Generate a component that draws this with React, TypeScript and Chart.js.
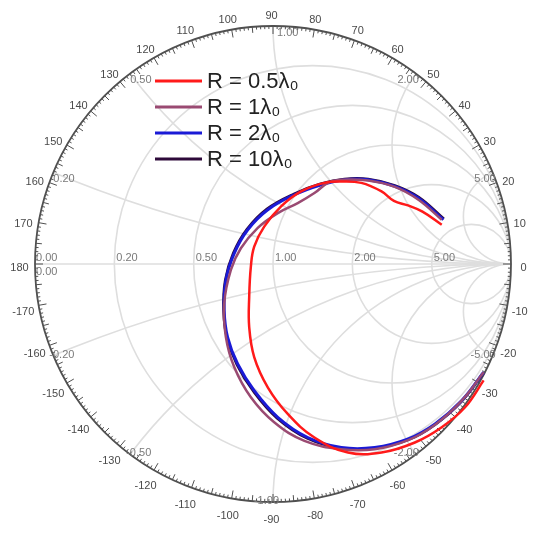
import React, { useEffect, useRef } from "react";
import { Chart, registerables } from "chart.js";

Chart.register(...registerables);

// Smith chart grid values
const RESISTANCE_VALUES = [0.2, 0.5, 1, 2, 5];
const REACTANCE_VALUES = [0.2, 0.5, 1, 2, 5];
const RESISTANCE_LABELS = ["0.20", "0.50", "1.00", "2.00", "5.00"];
const REACTANCE_POS_LABELS = ["0.20", "0.50", "1.00", "2.00", "5.00"];
const REACTANCE_NEG_LABELS = ["-0.20", "-0.50", "-1.00", "-2.00", "-5.00"];
const ANGLE_LABELS = [
  0, 10, 20, 30, 40, 50, 60, 70, 80, 90, 100, 110, 120, 130, 140, 150, 160, 170, 180,
  -10, -20, -30, -40, -50, -60, -70, -80, -90, -100, -110, -120, -130, -140, -150, -160, -170,
];

// Reflection coefficient (Re, Im) of each series
const seriesLabels = ["R = 0.5λ₀", "R = 1λ₀", "R = 2λ₀", "R = 10λ₀"];
const seriesColors = ["#ff1a1a", "#9a4a72", "#1a1ad6", "#2e0a3a"];
const seriesWidths = [2.5, 2.5, 3, 2.5];

const r05Points: number[][] = [
  [0.709, 0.165], [0.628, 0.220], [0.567, 0.246], [0.508, 0.265], [0.456, 0.305],
  [0.371, 0.341], [0.287, 0.347], [0.216, 0.341], [0.118, 0.305], [0.034, 0.242],
  [-0.037, 0.157], [-0.079, 0.073], [-0.093, -0.011], [-0.100, -0.138], [-0.100, -0.265],
  [-0.079, -0.391], [-0.022, -0.518], [0.062, -0.630], [0.174, -0.729], [0.315, -0.792],
  [0.456, -0.792], [0.596, -0.750], [0.709, -0.686], [0.807, -0.602], [0.885, -0.489],
];

const r1Points: number[][] = [
  [0.709, 0.186], [0.611, 0.270], [0.512, 0.324], [0.400, 0.351], [0.287, 0.354],
  [0.231, 0.341], [0.174, 0.298], [0.104, 0.256], [0.020, 0.214], [-0.065, 0.151],
  [-0.135, 0.066], [-0.177, -0.025], [-0.205, -0.166], [-0.198, -0.307], [-0.163, -0.433],
  [-0.093, -0.560], [0.005, -0.665], [0.132, -0.743], [0.287, -0.778], [0.427, -0.778],
  [0.568, -0.740], [0.681, -0.675], [0.793, -0.574], [0.885, -0.455],
];

const r2Points: number[][] = [
  [0.716, 0.186], [0.610, 0.277], [0.512, 0.326], [0.400, 0.354], [0.301, 0.354],
  [0.203, 0.333], [0.090, 0.291], [-0.022, 0.228], [-0.107, 0.143], [-0.163, 0.045],
  [-0.198, -0.068], [-0.205, -0.194], [-0.191, -0.307], [-0.149, -0.419], [-0.079, -0.532],
  [0.020, -0.644], [0.146, -0.729], [0.287, -0.771], [0.427, -0.771], [0.568, -0.735],
  [0.681, -0.672], [0.793, -0.574], [0.885, -0.455],
];

const r10Points: number[][] = [
  [0.718, 0.190], [0.612, 0.281], [0.512, 0.330], [0.400, 0.357], [0.300, 0.357],
  [0.200, 0.337], [0.088, 0.295], [-0.025, 0.232], [-0.110, 0.146], [-0.167, 0.046],
  [-0.201, -0.068], [-0.208, -0.194], [-0.194, -0.309], [-0.152, -0.423], [-0.082, -0.536],
  [0.017, -0.648], [0.144, -0.733], [0.287, -0.775], [0.427, -0.775], [0.568, -0.739],
  [0.681, -0.675], [0.793, -0.577], [0.885, -0.458],
];

const allSeries = [r05Points, r1Points, r2Points, r10Points];

const smithGrid = {
  id: "smithGrid",
  beforeDatasetsDraw(chart: any) {
    const { ctx } = chart;
    const xs = chart.scales.x;
    const ys = chart.scales.y;
    const px = (v: number) => xs.getPixelForValue(v);
    const py = (v: number) => ys.getPixelForValue(v);
    const cx = px(0);
    const cy = py(0);
    const R = px(1) - px(0);

    ctx.save();
    ctx.beginPath();
    ctx.arc(cx, cy, R, 0, Math.PI * 2);
    ctx.clip();
    ctx.strokeStyle = "#dedede";
    ctx.lineWidth = 1.6;
    ctx.beginPath();
    ctx.moveTo(px(-1), cy);
    ctx.lineTo(px(1), cy);
    ctx.stroke();
    RESISTANCE_VALUES.forEach((r) => {
      ctx.beginPath();
      ctx.arc(px(r / (r + 1)), cy, R / (r + 1), 0, Math.PI * 2);
      ctx.stroke();
    });
    REACTANCE_VALUES.forEach((x) => {
      [1, -1].forEach((s) => {
        ctx.beginPath();
        ctx.arc(px(1), py(s / x), R / x, 0, Math.PI * 2);
        ctx.stroke();
      });
    });
    ctx.restore();

    // outer circle and ticks
    ctx.save();
    ctx.strokeStyle = "#505050";
    ctx.lineWidth = 1.8;
    ctx.beginPath();
    ctx.arc(cx, cy, R, 0, Math.PI * 2);
    ctx.stroke();
    ctx.lineWidth = 1;
    for (let a = 0; a < 360; a += 1) {
      const t = (a * Math.PI) / 180;
      const len = a % 10 === 0 ? 8 : a % 5 === 0 ? 6 : 3;
      ctx.beginPath();
      ctx.moveTo(cx + R * Math.cos(t), cy - R * Math.sin(t));
      ctx.lineTo(cx + (R - len) * Math.cos(t), cy - (R - len) * Math.sin(t));
      ctx.stroke();
    }
    // angle labels
    ctx.fillStyle = "#4a4a4a";
    ctx.font = "11px 'Liberation Sans', Arial, sans-serif";
    ctx.textAlign = "center";
    ctx.textBaseline = "middle";
    ANGLE_LABELS.forEach((a) => {
      const t = (a * Math.PI) / 180;
      const lx = cx - 1.5 + (R + 14) * Math.cos(t);
      const ly = cy + 4 - (R + 14) * Math.sin(t);
      ctx.fillText(String(a), lx, ly);
    });

    // resistance labels
    ctx.fillStyle = "#7a7a7a";
    ctx.textAlign = "left";
    ctx.textBaseline = "bottom";
    ctx.fillText("0.00", px(-1) + 1, cy - 1);
    RESISTANCE_VALUES.forEach((r, i) => {
      const g = (r - 1) / (r + 1);
      ctx.fillText(RESISTANCE_LABELS[i], px(g) + 2, cy - 1);
    });
    ctx.textBaseline = "top";
    ctx.fillText("0.00", px(-1) + 1, cy + 2);

    // reactance labels
    REACTANCE_VALUES.forEach((x, i) => {
      const d = 1 + x * x;
      const gr = (x * x - 1) / d;
      const gi = (2 * x) / d;
      const lx = px(gr);
      ctx.textAlign = x <= 1 ? "left" : "right";
      const off = x === 1 ? 4 : x > 1 ? 3 : 0;
      ctx.textBaseline = "top";
      ctx.fillText(REACTANCE_POS_LABELS[i], lx + off, py(gi) + 1);
      ctx.textBaseline = "middle";
      const offN = x === 1 ? 6 : x > 1 ? 3 : -4;
      ctx.textAlign = x < 1 ? "left" : "right";
      ctx.fillText(REACTANCE_NEG_LABELS[i], lx + offN, py(-gi) - 1);
    });
    ctx.restore();
  },
};

const smithLegend = {
  id: "smithLegend",
  afterDatasetsDraw(chart: any) {
    const { ctx } = chart;
    ctx.save();
    ctx.font = "22px 'Liberation Sans', Arial, sans-serif";
    ctx.textAlign = "left";
    ctx.textBaseline = "middle";
    chart.data.datasets.forEach((ds: any, i: number) => {
      const y = 73 + i * 26;
      ctx.strokeStyle = ds.borderColor;
      ctx.lineWidth = 3;
      ctx.beginPath();
      ctx.moveTo(147, y);
      ctx.lineTo(194, y);
      ctx.stroke();
      ctx.fillStyle = "#222";
      ctx.fillText(ds.label, 199, y + 1);
    });
    ctx.restore();
  },
};

export default function App() {
  const ref = useRef<HTMLCanvasElement>(null);
  useEffect(() => {
    if (!ref.current) return;
    const chart = new Chart(ref.current, {
      type: "scatter",
      data: {
        datasets: allSeries.map((pts, i) => ({
          label: seriesLabels[i],
          data: pts.map((p) => ({ x: p[0], y: p[1] })),
          showLine: true,
          borderColor: seriesColors[i],
          backgroundColor: seriesColors[i],
          borderWidth: seriesWidths[i],
          pointRadius: 0,
          tension: 0.4,
          fill: false,
        })),
      },
      options: {
        responsive: false,
        animation: false,
        layout: { padding: { left: 27, right: 31, top: 18, bottom: 30 } },
        scales: {
          x: { type: "linear", min: -1, max: 1, display: false },
          y: { type: "linear", min: -1, max: 1, display: false },
        },
        plugins: {
          legend: { display: false },
          tooltip: { enabled: false },
        },
      },
      plugins: [smithGrid, smithLegend],
    });
    return () => chart.destroy();
  }, []);
  return (
    <canvas
      ref={ref}
      width={534}
      height={524}
      style={{ display: "block", width: 534, height: 524 }}
    />
  );
}
